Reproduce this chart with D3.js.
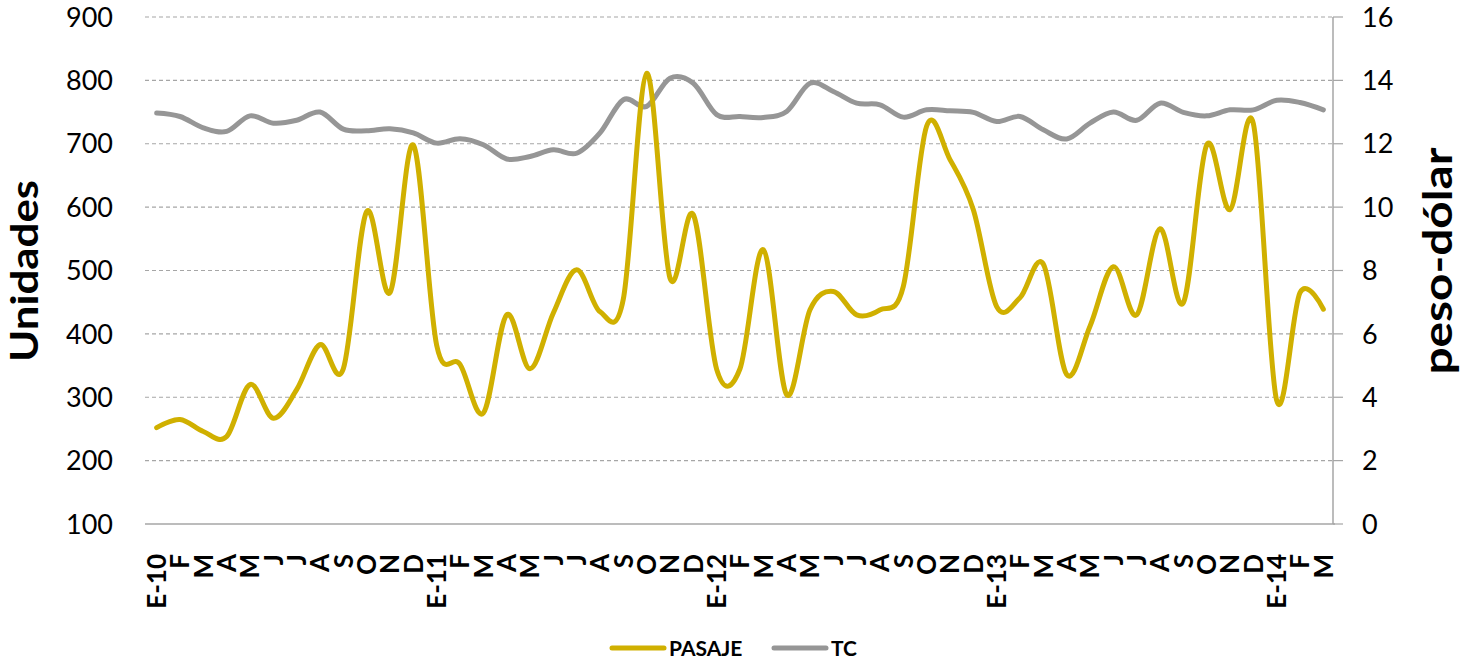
<!DOCTYPE html>
<html>
<head>
<meta charset="utf-8">
<script src="https://cdn.jsdelivr.net/npm/d3@7"></script>
<style>
  body { margin:0; background:#fff; }
  svg text { font-family: Lato, "Open Sans", sans-serif; }
</style>
</head>
<body>
<div id="grafico"></div>
<script>
// categorias del eje x (E-10 ... M-14)
var meses = ["E-10","F","M","A","M","J","J","A","S","O","N","D",
             "E-11","F","M","A","M","J","J","A","S","O","N","D",
             "E-12","F","M","A","M","J","J","A","S","O","N","D",
             "E-13","F","M","A","M","J","J","A","S","O","N","D",
             "E-14","F","M"];

// unidades (eje izquierdo)
var pasaje = [252,265,246,238,320,267,312,383,345,593,465,698,
              382,352,275,430,345,433,501,435,455,811,488,588,
              344,345,533,304,438,467,430,438,475,728,675,596,
              443,457,510,336,412,506,430,566,449,698,596,732,
              295,465,439];

// tipo de cambio peso-dolar (eje derecho)
var tc = [12.97,12.86,12.5,12.39,12.88,12.65,12.74,13.0,12.46,12.41,12.47,12.34,
          12.02,12.16,11.97,11.52,11.6,11.81,11.7,12.34,13.39,13.18,14.07,13.91,
          12.92,12.86,12.83,13.02,13.91,13.65,13.28,13.23,12.84,13.07,13.04,12.99,
          12.7,12.86,12.44,12.15,12.65,13.0,12.74,13.28,12.99,12.88,13.07,13.07,
          13.37,13.3,13.07];

var ticksIzq = [100,200,300,400,500,600,700,800,900];
var ticksDer = [0,2,4,6,8,10,12,14,16];

var W = 1468, H = 661;
var margen = {top:17, right:133, bottom:137, left:145};
var ancho = W - margen.left - margen.right,
    alto = H - margen.top - margen.bottom;

var svg = d3.select("#grafico").append("svg")
    .attr("width", W).attr("height", H);

var g = svg.append("g")
    .attr("transform", "translate(" + margen.left + "," + margen.top + ")");

var x = d3.scaleBand().domain(d3.range(meses.length)).range([0, ancho]);
var yIzq = d3.scaleLinear().domain([100,900]).range([alto, 0]);
var yDer = d3.scaleLinear().domain([0,16]).range([alto, 0]);

function cx(i){ return x(i) + x.bandwidth()/2; }

// lineas de grilla punteadas
g.selectAll(".grilla").data(ticksIzq.slice(1)).enter().append("line")
    .attr("x1", 0).attr("x2", ancho)
    .attr("y1", function(d){ return yIzq(d); })
    .attr("y2", function(d){ return yIzq(d); })
    .attr("stroke", "#a6a6a6").attr("stroke-width", 1.2)
    .attr("stroke-dasharray", "4,3");

// eje izquierdo
g.selectAll(".tickIzq").data(ticksIzq).enter().append("text")
    .attr("x", -32).attr("y", function(d){ return yIzq(d); })
    .attr("dy", "0.36em").attr("text-anchor", "end")
    .attr("font-size", 27).text(function(d){ return d; });

// eje derecho
g.append("line").attr("x1", ancho - 2).attr("x2", ancho - 2)
    .attr("y1", 0).attr("y2", alto).attr("stroke", "#a6a6a6").attr("stroke-width", 1.5);
g.selectAll(".marcaDer").data(ticksDer).enter().append("line")
    .attr("x1", ancho - 2).attr("x2", ancho + 8)
    .attr("y1", function(d){ return yDer(d); })
    .attr("y2", function(d){ return yDer(d); })
    .attr("stroke", "#a6a6a6").attr("stroke-width", 1.2);
g.selectAll(".tickDer").data(ticksDer).enter().append("text")
    .attr("x", ancho + 27).attr("y", function(d){ return yDer(d); })
    .attr("dy", "0.36em").attr("text-anchor", "start")
    .attr("font-size", 27).text(function(d){ return d; });

// eje x
g.append("line").attr("x1", 0).attr("x2", ancho)
    .attr("y1", alto).attr("y2", alto)
    .attr("stroke", "#a6a6a6").attr("stroke-width", 1.5);
g.selectAll(".mes").data(meses).enter().append("text")
    .attr("transform", function(d,i){ return "translate(" + cx(i) + "," + (alto + 30) + ") rotate(-90)"; })
    .attr("dy", "0.36em").attr("text-anchor", "end")
    .attr("font-size", 26).attr("font-weight", "bold")
    .text(function(d){ return d; });

// titulos de ejes
svg.append("text")
    .attr("transform", "translate(38,271) rotate(-90)")
    .attr("text-anchor", "middle").attr("font-size", 38).attr("font-weight", "bold")
    .attr("textLength", 182).attr("lengthAdjust", "spacingAndGlyphs")
    .text("Unidades");
svg.append("text")
    .attr("transform", "translate(1452,261) rotate(-90)")
    .attr("text-anchor", "middle").attr("font-size", 40).attr("font-weight", "bold")
    .attr("textLength", 227).attr("lengthAdjust", "spacingAndGlyphs")
    .text("peso-dólar");

// lineas suavizadas
var lineaIzq = d3.line()
    .x(function(d,i){ return cx(i); })
    .y(function(d){ return yIzq(d); })
    .curve(d3.curveCardinal.tension(0));
var lineaDer = d3.line()
    .x(function(d,i){ return cx(i); })
    .y(function(d){ return yDer(d); })
    .curve(d3.curveCardinal.tension(0));

g.append("path").datum(tc).attr("d", lineaDer)
    .attr("fill", "none").attr("stroke", "#969696").attr("stroke-width", 5)
    .attr("stroke-linecap", "round").attr("stroke-linejoin", "round");
g.append("path").datum(pasaje).attr("d", lineaIzq)
    .attr("fill", "none").attr("stroke", "#d0b000").attr("stroke-width", 5)
    .attr("stroke-linecap", "round").attr("stroke-linejoin", "round");

// leyenda
var leyenda = [{nombre:"PASAJE", color:"#d0b000", x:612}, {nombre:"TC", color:"#969696", x:774}];
var ley = svg.selectAll(".ley").data(leyenda).enter().append("g")
    .attr("transform", function(d){ return "translate(" + d.x + ",648)"; });
ley.append("line").attr("x1", 0).attr("x2", 52).attr("y1", 0).attr("y2", 0)
    .attr("stroke", function(d){ return d.color; }).attr("stroke-width", 5)
    .attr("stroke-linecap", "round");
ley.append("text").attr("x", 57).attr("dy", "0.37em")
    .attr("font-size", 21).attr("font-weight", "bold")
    .text(function(d){ return d.nombre; });
</script>
</body>
</html>
